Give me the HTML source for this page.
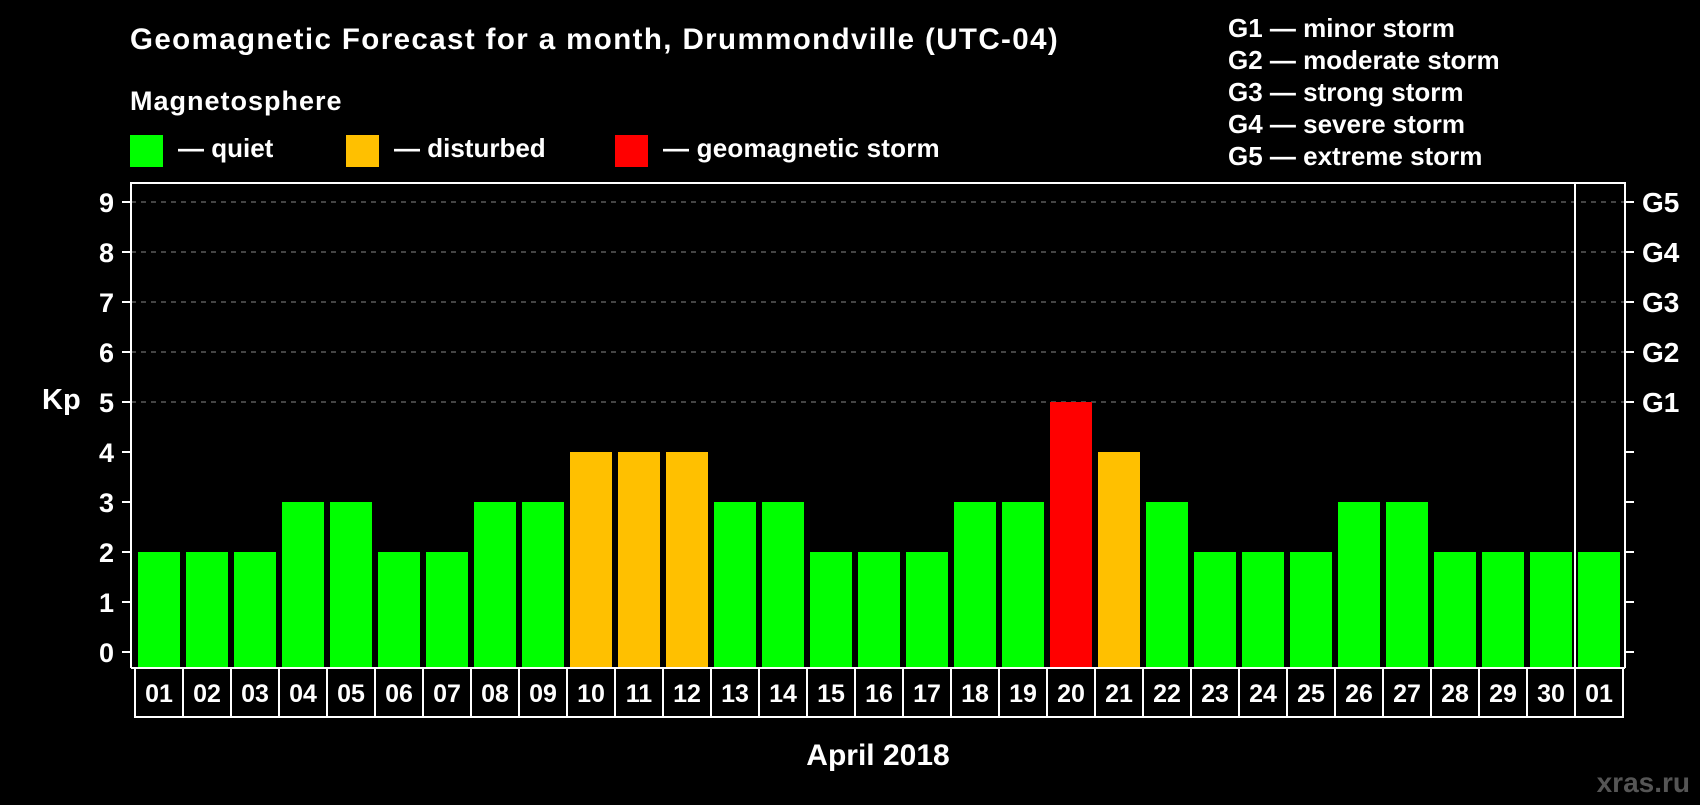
<!DOCTYPE html>
<html><head><meta charset="utf-8"><style>
body{margin:0;background:#000;width:1700px;height:800px;overflow:hidden;font-family:"Liberation Sans",Arial,sans-serif;font-weight:bold;color:#fff}
svg text{font-family:"Liberation Sans",Arial,sans-serif;font-weight:bold;fill:#fff}
</style></head><body>
<svg id="c" width="1700" height="800">
<text x="130" y="49" font-size="29.5" letter-spacing="1.4">Geomagnetic Forecast for a month, Drummondville (UTC-04)</text>
<text x="130" y="110" font-size="27" letter-spacing="1">Magnetosphere</text>
<rect x="130" y="135" width="33" height="32" fill="#00ff00"/>
<text x="178" y="157" font-size="26">— quiet</text>
<rect x="346" y="135" width="33" height="32" fill="#ffc000"/>
<text x="394" y="157" font-size="26">— disturbed</text>
<rect x="615" y="135" width="33" height="32" fill="#ff0000"/>
<text x="663" y="157" font-size="26" letter-spacing="0.2">— geomagnetic storm</text>
<g font-size="26">
<text x="1228" y="37">G1 — minor storm</text>
<text x="1228" y="69">G2 — moderate storm</text>
<text x="1228" y="101">G3 — strong storm</text>
<text x="1228" y="133">G4 — severe storm</text>
<text x="1228" y="165">G5 — extreme storm</text>
</g>
<text x="42" y="409" font-size="29">Kp</text>
<text x="878" y="765" font-size="30" text-anchor="middle">April 2018</text>
<text x="1690" y="792" font-size="28" style="fill:#555" text-anchor="end">xras.ru</text>
<g id="plot"></g>
</svg>
<script>
const days=["01","02","03","04","05","06","07","08","09","10","11","12","13","14","15","16","17","18","19","20","21","22","23","24","25","26","27","28","29","30","01"];
const kp=[2,2,2,3,3,2,2,3,3,4,4,4,3,3,2,2,2,3,3,5,4,3,2,2,2,3,3,2,2,2,2];
const yTicks=[0,1,2,3,4,5,6,7,8,9];
const gLabels=["G1","G2","G3","G4","G5"];
const NS="http://www.w3.org/2000/svg";
const g=document.getElementById('plot');
const X0=135,CW=48,Y0=652,U=50,TOP=183,BOT=668,R=1625;
const y=v=>Y0-v*U, x=i=>X0+i*CW;
function mk(t,a){const e=document.createElementNS(NS,t);for(const k in a)e.setAttribute(k,a[k]);g.appendChild(e);return e;}
yTicks.forEach(v=>{
 if(v>=5){const l=mk('line',{x1:131,x2:R,y1:y(v),y2:y(v),stroke:'#888','stroke-dasharray':'5,5','stroke-width':1});
 
 }
 const t1=mk('line',{x1:122,x2:131,y1:y(v),y2:y(v),stroke:'#fff','stroke-width':2});
 
 
 const t2=mk('line',{x1:R,x2:R+9,y1:y(v),y2:y(v),stroke:'#fff','stroke-width':2});
 
 
 const tx=mk('text',{x:114,y:y(v)+10,'font-size':27,'text-anchor':'end'});tx.textContent=v;
 
 
});
gLabels.forEach((s,i)=>{const t=mk('text',{x:1642,y:y(5+i)+10,'font-size':28});t.textContent=s;
 
 });
kp.forEach((v,i)=>{
 const c=v>=5?'#ff0000':v>=4?'#ffc000':'#00ff00';
 const b=mk('rect',{x:x(i)+3,y:y(v),width:42,height:BOT-y(v),fill:c});
 
 
 const cell=mk('rect',{x:x(i),y:BOT,width:CW,height:49,fill:'none',stroke:'#fff','stroke-width':2});
 
 
 const t=mk('text',{x:x(i)+CW/2,y:BOT+34,'font-size':25,'text-anchor':'middle'});t.textContent=days[i];
 
 
});
const fr=mk('path',{d:`M131 ${BOT} V${TOP} H${R} V${BOT} M131 ${BOT} H${R} M${x(30)} ${TOP} V${BOT}`,fill:'none',stroke:'#fff','stroke-width':2});


</script>
</body></html>
